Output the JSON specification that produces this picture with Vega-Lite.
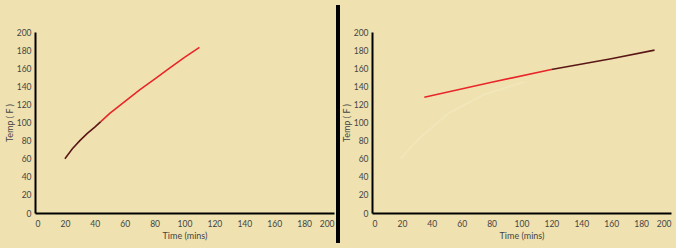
{
  "$schema": "https://vega.github.io/schema/vega-lite/v6.json",
  "background": "#efe2b0",
  "padding": {"left": 5, "top": 5, "right": 5, "bottom": 5},
  "spacing": 2,
  "datasets": {
    "left": [
      {"time": 20, "temp": 60, "seg": "dark"},
      {"time": 25, "temp": 71, "seg": "dark"},
      {"time": 30, "temp": 80, "seg": "dark"},
      {"time": 35, "temp": 88, "seg": "dark"},
      {"time": 40, "temp": 95, "seg": "dark"},
      {"time": 44, "temp": 101, "seg": "dark"},
      {"time": 44, "temp": 101, "seg": "red"},
      {"time": 50, "temp": 110, "seg": "red"},
      {"time": 60, "temp": 123, "seg": "red"},
      {"time": 70, "temp": 136, "seg": "red"},
      {"time": 80, "temp": 148, "seg": "red"},
      {"time": 90, "temp": 160, "seg": "red"},
      {"time": 100, "temp": 172, "seg": "red"},
      {"time": 110, "temp": 183, "seg": "red"}
    ],
    "right": [
      {"time": 19, "temp": 60, "seg": "ghost"},
      {"time": 30, "temp": 80, "seg": "ghost"},
      {"time": 51, "temp": 110, "seg": "ghost"},
      {"time": 75, "temp": 131, "seg": "ghost"},
      {"time": 102, "temp": 145, "seg": "ghost"},
      {"time": 35, "temp": 128, "seg": "red"},
      {"time": 80, "temp": 144.5, "seg": "red"},
      {"time": 120, "temp": 158.5, "seg": "red"},
      {"time": 120, "temp": 158.5, "seg": "dark"},
      {"time": 160, "temp": 170.5, "seg": "dark"},
      {"time": 189, "temp": 180, "seg": "dark"}
    ],
    "sep": [{"v": 0}]
  },
  "config": {
    "view": {"stroke": null},
    "font": "Lato",
    "axis": {
      "grid": false,
      "ticks": false,
      "domainColor": "#000000",
      "domainWidth": 2,
      "labelFont": "Lato",
      "labelFontSize": 8.5,
      "labelColor": "#444444",
      "titleFont": "Lato",
      "titleFontSize": 9,
      "titleFontWeight": "normal",
      "titleColor": "#444444"
    }
  },
  "hconcat": [
    {
      "width": 299,
      "height": 181,
      "data": {"name": "left"},
      "mark": {"type": "line", "strokeWidth": 1.6},
      "encoding": {
        "x": {"field": "time", "type": "quantitative", "scale": {"domain": [0, 200], "nice": false}, "axis": {"values": [0,20,40,60,80,100,120,140,160,180,200], "title": "Time (mins)", "labelPadding": 6, "titlePadding": 4}},
        "y": {"field": "temp", "type": "quantitative", "scale": {"domain": [0, 200], "nice": false}, "axis": {"values": [0,20,40,60,80,100,120,140,160,180,200], "title": "Temp ( F )", "labelPadding": 4, "titlePadding": 2}},
        "color": {"field": "seg", "type": "nominal", "scale": {"domain": ["dark", "red", "ghost"], "range": ["#5a1616", "#e8262a", "#f2e6bb"]}, "legend": null}
      }
    },
    {
      "width": 4,
      "height": 181,
      "data": {"name": "sep"},
      "mark": {"type": "rect", "color": "#000000", "clip": false},
      "encoding": {
        "x": {"datum": 0, "type": "quantitative", "scale": {"domain": [0, 1], "range": [0, 4]}, "axis": null},
        "x2": {"datum": 1},
        "y": {"datum": 0, "type": "quantitative", "scale": {"domain": [0, 1], "range": [211, -27]}, "axis": null},
        "y2": {"datum": 1}
      }
    },
    {
      "width": 299,
      "height": 181,
      "data": {"name": "right"},
      "mark": {"type": "line", "strokeWidth": 1.6},
      "encoding": {
        "x": {"field": "time", "type": "quantitative", "scale": {"domain": [0, 200], "nice": false}, "axis": {"values": [0,20,40,60,80,100,120,140,160,180,200], "title": "Time (mins)", "labelPadding": 6, "titlePadding": 4}},
        "y": {"field": "temp", "type": "quantitative", "scale": {"domain": [0, 200], "nice": false}, "axis": {"values": [0,20,40,60,80,100,120,140,160,180,200], "title": "Temp ( F )", "labelPadding": 4, "titlePadding": 2}},
        "color": {"field": "seg", "type": "nominal", "scale": {"domain": ["dark", "red", "ghost"], "range": ["#5a1616", "#e8262a", "#f2e6bb"]}, "legend": null},
        "order": {"field": "seg"}
      }
    }
  ]
}
